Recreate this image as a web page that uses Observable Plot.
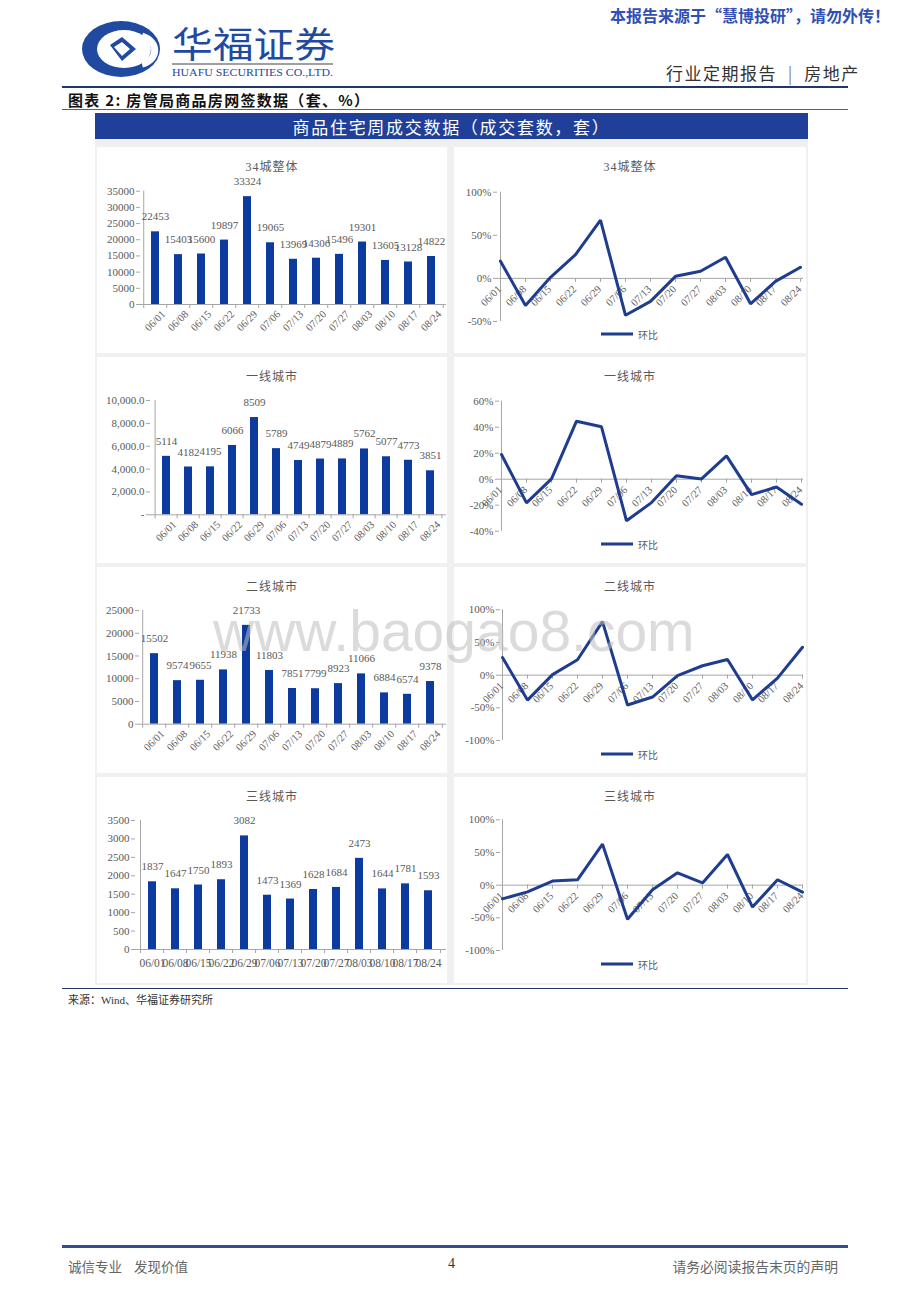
<!DOCTYPE html>
<html><head><meta charset="utf-8">
<script src="https://cdn.jsdelivr.net/npm/d3@7"></script>
<script src="https://cdn.jsdelivr.net/npm/@observablehq/plot@0.6"></script>
<style>
body{margin:0;background:#fff;}
#page{position:relative;width:920px;height:1302px;overflow:hidden;background:#fff;font-family:"Noto Sans CJK SC",sans-serif;}
.abs{position:absolute;}
.ptitle{position:absolute;font-family:"Liberation Serif","Noto Sans CJK SC",serif;font-size:12px;color:#595959;letter-spacing:1px;transform:translate(-50%,-50%);white-space:nowrap;}
.legend{position:absolute;font-size:10px;color:#595959;display:flex;align-items:center;transform:translateY(-50%);}
.legend span.sw{display:inline-block;width:32px;height:3px;background:#1f3d8f;margin-right:5px;}
.panel{position:absolute;background:#fff;}
</style></head>
<body><div id="page"></div>
<script>
// ---------------- data ----------------
const dates = ["06/01","06/08","06/15","06/22","06/29","07/06","07/13","07/20","07/27","08/03","08/10","08/17","08/24"];
const total34 = [22453,15403,15600,19897,33324,19065,13969,14306,15496,19301,13605,13128,14822];
const tier1 = [5114,4182,4195,6066,8509,5789,4749,4879,4889,5762,5077,4773,3851];
const tier2 = [15502,9574,9655,11938,21733,11803,7851,7799,8923,11066,6884,6574,9378];
const tier3 = [1837,1647,1750,1893,3082,1473,1369,1628,1684,2473,1644,1781,1593];
const mom34 = [20,-31.4,1.3,27.5,67.5,-42.8,-26.7,2.4,8.3,24.6,-29.5,-3.5,12.9];
const mom1 = [19,-18.2,0.3,44.6,40.3,-32.0,-18.0,2.7,0.2,17.9,-11.9,-6.0,-19.3];
const mom2 = [27,-38.2,0.8,23.6,82.0,-45.7,-33.5,-0.7,14.4,24.0,-37.8,-4.5,42.7];
const mom3 = [-21,-10.3,6.3,8.2,62.8,-52.2,-7.1,18.9,3.4,46.9,-33.5,8.3,-10.6];
const titles = ["34城整体","一线城市","二线城市","三线城市"];
const barTicks34 = [0,5000,10000,15000,20000,25000,30000,35000];
const barTicks1 = [0,2000,4000,6000,8000,10000];
const barTicks2 = [0,5000,10000,15000,20000,25000];
const barTicks3 = [0,500,1000,1500,2000,2500,3000,3500];
const momTicks34 = [-50,0,50,100];
const momTicks1 = [-40,-20,0,20,40,60];
const momTicks23 = [-100,-50,0,50,100];

const BAR = "#0c3a9e", LINE = "#1f3d8f", AXIS = "#a6a6a6", TXT = "#595959";
const FONT = '"Liberation Serif","Noto Sans CJK SC",serif';
const page = document.getElementById("page");

function el(tag, cls, style, html){const e=document.createElement(tag); if(cls) e.className=cls; Object.assign(e.style, style||{}); if(html!=null) e.innerHTML=html; page.appendChild(e); return e;}

// ---------------- page furniture ----------------
el("div","abs",{left:"610px",top:"3px",fontSize:"16px",fontWeight:"700",color:"#3050b4",whiteSpace:"nowrap"},"本报告来源于“慧博投研”，请勿外传！");
el("div","abs",{left:"80px",top:"14px"},`<svg width="270" height="70" viewBox="0 0 270 70" style="overflow:visible">
 <ellipse cx="41" cy="35" rx="39" ry="28" fill="#1f4aa0"/>
 <ellipse cx="44" cy="35" rx="27" ry="19" fill="#fff"/>
 <path d="M62 22 C80 28 78 46 62 50" stroke="#fff" stroke-width="7" fill="none"/>
 <path d="M30 31 L42 23 L56 35 L42 47 Z" fill="#1f4aa0"/>
 <path d="M34 33 L42 28 L50 35 L42 42 Z" fill="#fff"/>
 <text x="92" y="44" font-family="Noto Sans CJK SC" font-size="36" fill="#1f4aa0" textLength="163" lengthAdjust="spacingAndGlyphs">华福证券</text>
 <rect x="92" y="49" width="161" height="2" fill="#a0a0a0"/>
 <text x="92" y="62" font-family="Liberation Serif" font-size="10" fill="#1f4aa0" textLength="161" lengthAdjust="spacingAndGlyphs">HUAFU SECURITIES CO.,LTD.</text>
</svg>`);
el("div","abs",{left:"666px",top:"60px",fontSize:"17px",letterSpacing:"1.5px",color:"#333",whiteSpace:"nowrap"},"行业定期报告&nbsp;&nbsp;<span style='color:#888'>|</span>&nbsp;&nbsp;房地产");
el("div","abs",{left:"62px",top:"86px",width:"786px",height:"2px",background:"#1f3864"});
el("div","abs",{left:"68px",top:"89px",fontSize:"15px",fontWeight:"700",letterSpacing:"1.3px",color:"#111",whiteSpace:"nowrap"},"图表 2: 房管局商品房网签数据（套、%）");
el("div","abs",{left:"62px",top:"109px",width:"786px",height:"1px",background:"#4a5f8f"});
el("div","abs",{left:"95px",top:"113px",width:"713px",height:"26px",background:"#1f3f99",color:"#fff",fontSize:"17px",letterSpacing:"1.7px",display:"flex",alignItems:"center",justifyContent:"center"},"商品住宅周成交数据（成交套数，套）");
el("div","abs",{left:"95px",top:"139px",width:"713px",height:"846px",background:"#f0f0f0"});
el("div","abs",{left:"62px",top:"988px",width:"786px",height:"1px",background:"#1f3864"});
el("div","abs",{left:"68px",top:"991px",fontSize:"11px",color:"#333",fontFamily:FONT,whiteSpace:"nowrap"},"来源：Wind、华福证券研究所");
el("div","abs",{left:"62px",top:"1245px",width:"786px",height:"3px",background:"#2f4f8f"});
el("div","abs",{left:"68px",top:"1256px",fontSize:"13.5px",color:"#666",whiteSpace:"nowrap"},"诚信专业&nbsp;&nbsp;&nbsp;&nbsp;发现价值");
el("div","abs",{left:"448px",top:"1256px",fontSize:"14px",color:"#333",fontFamily:FONT},"4");
el("div","abs",{right:"82px",top:"1256px",fontSize:"13.8px",color:"#666",whiteSpace:"nowrap"},"请务必阅读报告末页的声明");

// ---------------- charts ----------------
function margins(panel, frame){
  return {marginLeft: frame.x0 - panel.left, marginRight: panel.left + panel.w - frame.x1,
          marginTop: frame.yTop - panel.top, marginBottom: panel.top + panel.h - frame.yBottom};
}
function barChart(values, yDomain, yTicks, yFormat, panel, frame, rotate){
  const data = dates.map((d,i)=>({date:d, value:values[i]}));
  const step = (frame.x1 - frame.x0) / dates.length;
  const tk = (yDomain[1]-yDomain[0]) / (frame.yBottom - frame.yTop) * 4;
  return Plot.plot({
    width: panel.w, height: panel.h, ...margins(panel, frame),
    style:{background:"transparent", fontFamily:FONT, color:TXT, fontSize:"11px"},
    x:{type:"band", domain:dates, paddingInner:0.64, paddingOuter:0.32, axis:null},
    y:{domain:yDomain, axis:null},
    marks:[
      Plot.barY(data,{x:"date", y:"value", fill:BAR}),
      Plot.ruleY([0],{stroke:AXIS}),
      Plot.ruleX([dates[0]],{x:d=>d, y1:yDomain[0], y2:yDomain[1], dx:-step/2, stroke:AXIS}),
      Plot.ruleX(dates,{x:d=>d, y1:0, y2:-tk, dx:-step/2, stroke:AXIS}),
      Plot.ruleX([dates[dates.length-1]],{x:d=>d, y1:0, y2:-tk, dx:step/2, stroke:AXIS}),
      Plot.axisY({ticks:yTicks, tickFormat:yFormat, tickSize:4, stroke:AXIS, fill:TXT, fontSize:11, tickPadding:2, label:null}),
      rotate
        ? Plot.text(dates,{x:d=>d, y:()=>0, text:d=>d, rotate:-45, textAnchor:"end", dx:8, dy:8, fontSize:10.5, fill:TXT})
        : Plot.text(dates,{x:d=>d, y:()=>0, text:d=>d, dy:14, fontSize:11.5, fill:TXT}),
      Plot.text(data,{x:"date", y:"value", text:d=>String(d.value), dy:-15, fontSize:11, fill:TXT})
    ]
  });
}
function lineChart(values, yDomain, yTicks, panel, frame){
  const data = dates.map((d,i)=>({date:d, value:values[i]}));
  const tk = (yDomain[1]-yDomain[0]) / (frame.yBottom - frame.yTop) * 4;
  return Plot.plot({
    width: panel.w, height: panel.h, ...margins(panel, frame),
    style:{background:"transparent", fontFamily:FONT, color:TXT, fontSize:"11px", overflow:"visible"},
    x:{type:"point", domain:dates, padding:0, axis:null},
    y:{domain:yDomain, axis:null},
    marks:[
      Plot.ruleY([0],{stroke:AXIS}),
      Plot.ruleX([dates[0]],{x:d=>d, y1:yDomain[0], y2:yDomain[1], stroke:AXIS}),
      Plot.ruleX(dates,{x:d=>d, y1:0, y2:-tk, stroke:AXIS}),
      Plot.axisY({ticks:yTicks, tickFormat:d=>d+"%", tickSize:4, stroke:AXIS, fill:TXT, fontSize:11, tickPadding:2, label:null}),
      Plot.text(dates,{x:d=>d, y:()=>0, text:d=>d, rotate:-45, textAnchor:"end", dx:-1, dy:9, fontSize:10.5, fill:TXT}),
      Plot.line(data,{x:"date", y:"value", stroke:LINE, strokeWidth:3, strokeLinejoin:"miter"})
    ]
  });
}

const rows = [147, 357, 567, 777];
const barSpecs = [
  {v:total34, dom:[0,35000], ticks:barTicks34, fmt:d=>String(d), frame:{x0:140,x1:446,yTop:190.7,yBottom:304}, rotate:true},
  {v:tier1, dom:[0,10000], ticks:barTicks1, fmt:d=>d===0?"-":d3.format(",.1f")(d), frame:{x0:150,x1:446,yTop:400,yBottom:514.3}, rotate:true},
  {v:tier2, dom:[0,25000], ticks:barTicks2, fmt:d=>String(d), frame:{x0:139,x1:446,yTop:610,yBottom:723.7}, rotate:true},
  {v:tier3, dom:[0,3500], ticks:barTicks3, fmt:d=>String(d), frame:{x0:135,x1:446,yTop:820,yBottom:949}, rotate:false}
];
const lineSpecs = [
  {v:mom34, dom:[-50,100], ticks:momTicks34, frame:{x0:497,x1:803,yTop:191.7,yBottom:321}},
  {v:mom1, dom:[-40,60], ticks:momTicks1, frame:{x0:499,x1:803,yTop:400.7,yBottom:530.7}},
  {v:mom2, dom:[-100,100], ticks:momTicks23, frame:{x0:500,x1:803,yTop:609.3,yBottom:740}},
  {v:mom3, dom:[-100,100], ticks:momTicks23, frame:{x0:500,x1:803,yTop:819.3,yBottom:950}}
];
rows.forEach((top,i)=>{
  const pl = {left:97, top, w:350, h:206};
  const pr = {left:454, top, w:352, h:206};
  const a = el("div","panel",{left:pl.left+"px",top:top+"px",width:pl.w+"px",height:pl.h+"px"});
  a.appendChild(barChart(barSpecs[i].v, barSpecs[i].dom, barSpecs[i].ticks, barSpecs[i].fmt, pl, barSpecs[i].frame, barSpecs[i].rotate));
  const b = el("div","panel",{left:pr.left+"px",top:top+"px",width:pr.w+"px",height:pr.h+"px"});
  b.appendChild(lineChart(lineSpecs[i].v, lineSpecs[i].dom, lineSpecs[i].ticks, pr, lineSpecs[i].frame));
  el("div","ptitle",{left:(pl.left+pl.w/2)+"px",top:(top+19)+"px"},titles[i]);
  el("div","ptitle",{left:(pr.left+pr.w/2)+"px",top:(top+19)+"px"},titles[i]);
  el("div","legend",{left:"601px",top:(top+187)+"px"},"<span class='sw'></span>环比");
});

// watermark
el("div","abs",{left:"213px",top:"598px",fontFamily:'"Liberation Sans",sans-serif',fontSize:"57px",color:"rgba(190,190,190,0.55)",whiteSpace:"nowrap",pointerEvents:"none"},"www.baogao8.com");
</script></body></html>
